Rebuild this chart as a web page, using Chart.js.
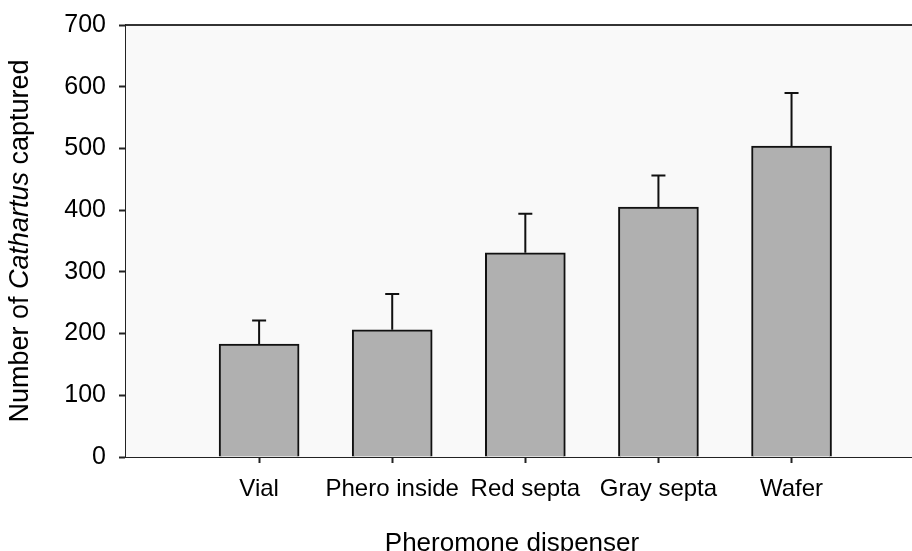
<!DOCTYPE html>
<html>
<head>
<meta charset="utf-8">
<script src="https://cdn.jsdelivr.net/npm/chart.js@4.4.0/dist/chart.umd.min.js"></script>
<style>
  body { margin: 0; background: #fff; }
  canvas { display: block; }
</style>
</head>
<body>
<canvas id="trapChart" width="912" height="551"></canvas>
<script>
// data
const dispensers = ['Vial', 'Phero inside', 'Red septa', 'Gray septa', 'Wafer']
const meanCaught = [183, 206, 331, 405, 504]
const upperError = [221, 264, 394, 456, 590]
const yTicks = [0, 100, 200, 300, 400, 500, 600, 700]

const FONT = "'Liberation Sans', Arial, sans-serif"

// light gray plot area + top frame line
const plotFrame = {
  id: 'plotFrame',
  beforeDatasetsDraw(chart) {
    const { ctx, chartArea: a } = chart
    ctx.save()
    ctx.fillStyle = '#f9f9f9'
    ctx.fillRect(a.left, a.top, a.right - a.left, a.bottom - a.top)
    ctx.restore()
  },
  afterDraw(chart) {
    const { ctx, chartArea: a } = chart
    ctx.save()
    ctx.strokeStyle = '#333'
    ctx.lineWidth = 2
    ctx.beginPath()
    ctx.moveTo(a.left, a.top)
    ctx.lineTo(a.right, a.top)
    ctx.stroke()
    ctx.restore()
  }
}

// upper error bars
const errorBars = {
  id: 'errorBars',
  afterDatasetsDraw(chart) {
    const { ctx } = chart
    const xs = chart.scales.x
    const ys = chart.scales.y
    ctx.save()
    ctx.strokeStyle = '#111'
    ctx.lineWidth = 2
    upperError.forEach((up, i) => {
      const x = xs.getPixelForValue(i + 1)
      const y0 = ys.getPixelForValue(meanCaught[i])
      const y1 = ys.getPixelForValue(up)
      ctx.beginPath()
      ctx.moveTo(x, y0)
      ctx.lineTo(x, y1)
      ctx.moveTo(x - 7, y1)
      ctx.lineTo(x + 7, y1)
      ctx.stroke()
    })
    ctx.restore()
  }
}

// axis titles (y title has italic genus name)
const axisTitles = {
  id: 'axisTitles',
  afterDraw(chart) {
    const { ctx } = chart
    ctx.save()
    ctx.fillStyle = '#000'
    ctx.textBaseline = 'alphabetic'

    ctx.font = '26px ' + FONT
    ctx.textAlign = 'center'
    ctx.fillText('Pheromone dispenser', 512, 551)

    const parts = [
      ['Number of ', 'normal'],
      ['Cathartus', 'italic'],
      [' captured', 'normal']
    ]
    let total = 0
    parts.forEach(p => {
      ctx.font = p[1] + ' 27px ' + FONT
      total += ctx.measureText(p[0]).width
    })
    ctx.translate(28, 241)
    ctx.rotate(-Math.PI / 2)
    ctx.textAlign = 'left'
    let x = -total / 2
    parts.forEach(p => {
      ctx.font = p[1] + ' 27px ' + FONT
      ctx.fillText(p[0], x, 0)
      x += ctx.measureText(p[0]).width
    })
    ctx.restore()
  }
}

const ctx = document.getElementById('trapChart').getContext('2d')
new Chart(ctx, {
  type: 'bar',
  data: {
    datasets: [{
      data: dispensers.map((d, i) => ({ x: i + 1, y: meanCaught[i] })),
      backgroundColor: '#b0b0b0',
      borderColor: '#111',
      borderWidth: 2,
      barThickness: 80
    }]
  },
  options: {
    responsive: false,
    animation: false,
    layout: { padding: { top: 25, right: 0, left: 0, bottom: 0 } },
    plugins: {
      legend: { display: false },
      tooltip: { enabled: false }
    },
    scales: {
      x: {
        type: 'linear',
        min: 0,
        max: 5.905,
        offset: false,
        afterFit: (s) => { s.height = 94 },
        grid: {
          offset: false,
          drawOnChartArea: false,
          tickLength: 6,
          tickWidth: 2,
          tickColor: (c) => (c.tick && c.tick.value >= 1 && c.tick.value <= 5) ? '#222' : 'rgba(0,0,0,0)'
        },
        border: { color: '#222', width: 2 },
        ticks: {
          stepSize: 1,
          includeBounds: false,
          autoSkip: false,
          maxRotation: 0,
          padding: 12,
          color: '#000',
          font: { family: FONT, size: 24 },
          callback: (v) => dispensers[v - 1] || ''
        }
      },
      y: {
        min: 0,
        max: 700,
        afterFit: (s) => {
          s.width = 126
          s.paddingTop = 0
          s.paddingBottom = 0
        },
        afterBuildTicks: (s) => { s.ticks = yTicks.map(v => ({ value: v })) },
        grid: {
          drawOnChartArea: false,
          tickLength: 7,
          tickWidth: 2,
          tickColor: '#222'
        },
        border: { color: '#222', width: 2 },
        ticks: {
          padding: 13,
          color: '#000',
          font: { family: FONT, size: 25 }
        }
      }
    }
  },
  plugins: [plotFrame, errorBars, axisTitles]
})
</script>
</body>
</html>
